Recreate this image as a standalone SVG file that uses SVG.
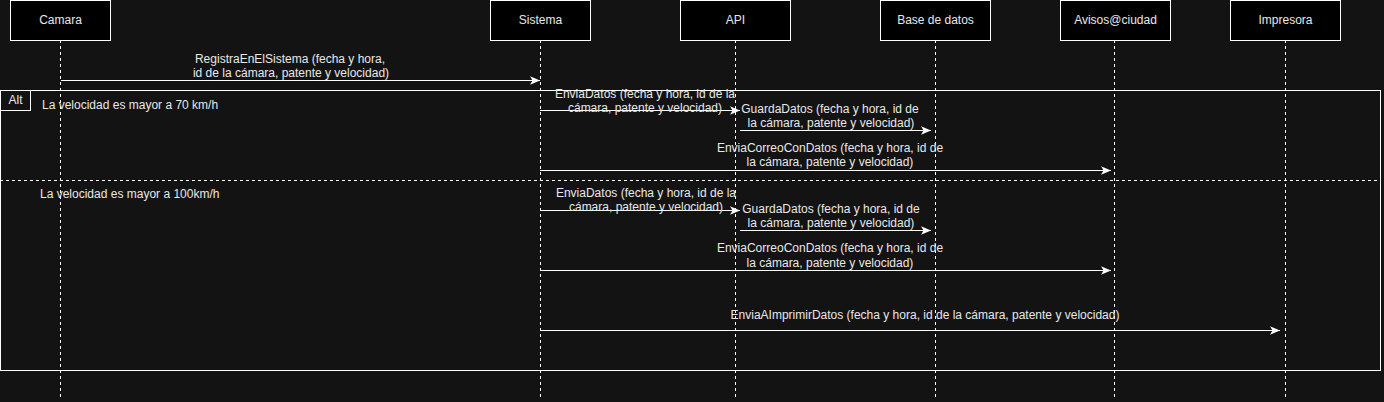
<svg xmlns="http://www.w3.org/2000/svg" width="1384" height="402" viewBox="0 0 1384 402">
<style>
.bg{fill:#131313}
.node rect{fill:#000;stroke:#fff;stroke-width:1}
text{font-family:"Liberation Sans",Arial,sans-serif;font-size:12px;fill:#e8e8e8}
.c{text-anchor:middle}
.life{stroke:#fff;stroke-width:1;stroke-dasharray:3 3;fill:none}
.msg{stroke:#fff;stroke-width:1;fill:none;marker-end:url(#arr)}
.frame{fill:none;stroke:#fff;stroke-width:1}
</style>
<defs>
<marker id="arr" markerUnits="userSpaceOnUse" markerWidth="10" markerHeight="10" viewBox="0 0 10 10" refX="10" refY="5" orient="auto">
<path d="M0,0.8 L10,5 L0,9.2 L2.5,5 Z" fill="#fff"/>
</marker>
</defs>
<rect class="bg" x="0" y="0" width="1384" height="402"/>
<g id="lifelines">
<line class="life" x1="60.5" y1="40" x2="60.5" y2="400"/>
<line class="life" x1="540.5" y1="40" x2="540.5" y2="400"/>
<line class="life" x1="735.5" y1="40" x2="735.5" y2="400"/>
<line class="life" x1="935.5" y1="40" x2="935.5" y2="400"/>
<line class="life" x1="1114.5" y1="40" x2="1114.5" y2="400"/>
<line class="life" x1="1285.5" y1="40" x2="1285.5" y2="400"/>
</g>
<g id="alt-frame">
<rect class="frame" x="0.5" y="90.5" width="1380" height="280"/>
<rect class="frame" x="0.5" y="90.5" width="30" height="20"/>
<text class="c" x="15.5" y="104">Alt</text>
<line class="life" x1="0" y1="180.5" x2="1381" y2="180.5"/>
<text x="42" y="109">La velocidad es mayor a 70 km/h</text>
<text x="40" y="198">La velocidad es mayor a 100km/h</text>
</g>
<g id="camara" class="node"><rect x="10.5" y="0.5" width="100" height="40"/><text class="c" x="60.5" y="24">Camara</text></g>
<g id="sistema" class="node"><rect x="490.5" y="0.5" width="100" height="40"/><text class="c" x="540.5" y="24">Sistema</text></g>
<g id="api" class="node"><rect x="680.5" y="0.5" width="110" height="40"/><text class="c" x="735.5" y="24">API</text></g>
<g id="basededatos" class="node"><rect x="880.5" y="0.5" width="110" height="40"/><text class="c" x="935.5" y="24">Base de datos</text></g>
<g id="avisos" class="node"><rect x="1060.5" y="0.5" width="110" height="40"/><text class="c" x="1115.5" y="24">Avisos@ciudad</text></g>
<g id="impresora" class="node"><rect x="1230.5" y="0.5" width="110" height="40"/><text class="c" x="1285.5" y="24">Impresora</text></g>
<g id="connectors">
<line class="msg" x1="61" y1="80.5" x2="540" y2="80.5"/>
<text class="c" x="290" y="63">RegistraEnElSistema (fecha y hora,</text>
<text class="c" x="291" y="77">id de la cámara, patente y velocidad)</text>

<line class="msg" x1="540" y1="110.5" x2="740" y2="110.5"/>
<text class="c" x="645" y="98">EnviaDatos (fecha y hora, id de la</text>
<text class="c" x="645" y="112">cámara, patente y velocidad)</text>

<line class="msg" x1="740" y1="130.5" x2="931" y2="130.5"/>
<text class="c" x="830" y="112.5">GuardaDatos (fecha y hora, id de</text>
<text class="c" x="831" y="126.5">la cámara, patente y velocidad)</text>

<line class="msg" x1="540" y1="170.5" x2="1111" y2="170.5"/>
<text class="c" x="830" y="152">EnviaCorreoConDatos (fecha y hora, id de</text>
<text class="c" x="830" y="166">la cámara, patente y velocidad)</text>

<line class="msg" x1="540" y1="210.5" x2="740" y2="210.5"/>
<text class="c" x="646" y="197">EnviaDatos (fecha y hora, id de la</text>
<text class="c" x="646" y="211">cámara, patente y velocidad)</text>

<line class="msg" x1="740" y1="230.5" x2="931" y2="230.5"/>
<text class="c" x="831" y="212.5">GuardaDatos (fecha y hora, id de</text>
<text class="c" x="831" y="226.5">la cámara, patente y velocidad)</text>

<line class="msg" x1="540" y1="270.5" x2="1111" y2="270.5"/>
<text class="c" x="830" y="252">EnviaCorreoConDatos (fecha y hora, id de</text>
<text class="c" x="830" y="266.5">la cámara, patente y velocidad)</text>

<line class="msg" x1="540" y1="330.5" x2="1280" y2="330.5"/>
<text class="c" x="925" y="319">EnviaAImprimirDatos (fecha y hora, id de la cámara, patente y velocidad)</text>
</g>
</svg>
